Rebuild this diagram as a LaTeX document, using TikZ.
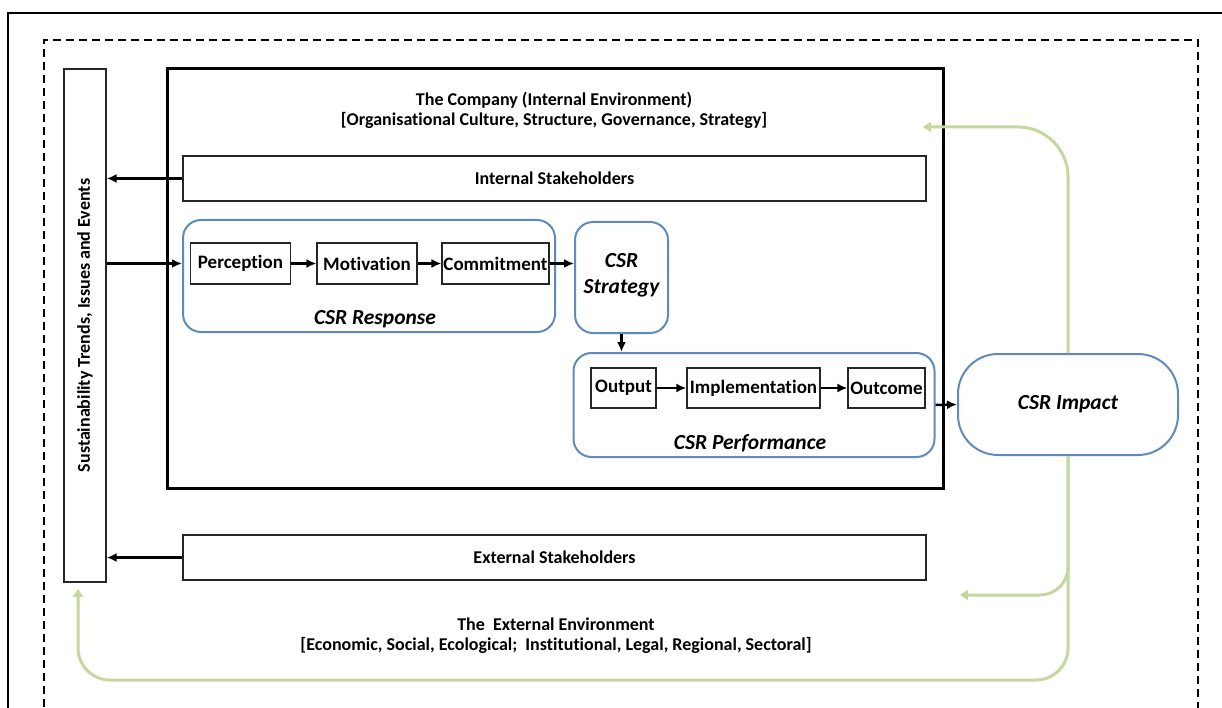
\documentclass[tikz,border=0pt]{standalone}
\usepackage{fontspec}
\setmainfont{Carlito}[Ligatures=NoCommon]
\usetikzlibrary{arrows.meta,calc}
\definecolor{cblue}{RGB}{96,138,190}
\definecolor{cgreen}{RGB}{196,215,158}
\begin{document}
\begin{tikzpicture}[x=1pt,y=-1pt,
  txt/.style={font=\fontsize{18}{21}\selectfont\bfseries},
  btxt/.style={font=\fontsize{19}{22}\selectfont\bfseries},
  plainbox/.style={draw=black!85, line width=1.2pt, inner sep=0pt, btxt},
  roundbox/.style={draw=cblue, line width=2pt, rounded corners=18pt, inner sep=0pt},
  lbl/.style={font=\fontsize{21.5}{25}\selectfont\bfseries\itshape, inner sep=0pt},
  blk/.style={-{Latex[length=10pt,width=9pt]}, line width=2.5pt},
  grn/.style={draw=cgreen, line width=3pt},
  grnarrow/.style={-{Triangle[length=8pt,width=10pt]}, grn}
]
\useasboundingbox (0,0) rectangle (1222,708);
\begin{scope}
\clip (0,0) rectangle (1222,708);
% outer frame
\draw[line width=1.5pt] (8,720) -- (8,13) -- (1240,13);
% dashed frame
\draw[line width=2pt, dash pattern=on 8pt off 5pt] (44,720) -- (44,40) -- (1198,40) -- (1198,720);
\end{scope}

% left bar
\node[plainbox, minimum width=42pt, minimum height=513pt] (bar) at (85,325.5) {};
\node[txt, rotate=90, inner sep=0pt] (bartext) at (bar.center) {Sustainability Trends, Issues and Events};

% company box
\node[draw=black, line width=3pt, minimum width=776pt, minimum height=419pt, inner sep=0pt] (company) at (555,278.5) {};
\node[txt, align=center, inner sep=0pt] (ctitle) at (554,110) {The Company (Internal Environment)\\[-1pt] [Organisational Culture, Structure, Governance, Strategy]};

% stakeholders
\node[plainbox, minimum width=743pt, minimum height=45pt, txt] (internal) at (554.5,178.5) {Internal Stakeholders};
\node[plainbox, minimum width=743pt, minimum height=45pt, txt] (external) at (554.5,557.5) {External Stakeholders};

% CSR response
\node[roundbox, minimum width=372pt, minimum height=112pt] (response) at (369,276) {};
\node[plainbox, minimum width=100pt, minimum height=41pt] (perception) at (240.5,263.5) {Perception};
\node[plainbox, minimum width=100pt, minimum height=41pt] (motivation) at (367,263.5) {Motivation};
\node[plainbox, minimum width=107pt, minimum height=41pt] (commitment) at (495.5,263.5) {Commitment};
\node[lbl] (resplbl) at (375,319) {CSR Response};

% CSR strategy
\node[roundbox, minimum width=93pt, minimum height=111pt] (strategy) at (621.5,277.5) {};
\node[lbl, align=center] (stratlbl) at (621.5,275) {CSR\\[1pt]Strategy};

% CSR performance
\node[roundbox, minimum width=361pt, minimum height=104pt] (performance) at (754,405) {};
\node[plainbox, minimum width=65pt, minimum height=40pt] (output) at (623.5,388) {Output};
\node[plainbox, minimum width=133pt, minimum height=40pt] (implementation) at (753.5,388) {Implementation};
\node[plainbox, minimum width=77pt, minimum height=40pt] (outcome) at (886.5,388) {Outcome};
\node[lbl] (perflbl) at (750,443) {CSR Performance};

% CSR impact
\node[draw=cblue, line width=2pt, rounded corners=40pt, minimum width=220pt, minimum height=101pt, inner sep=0pt] (impact) at (1068,404.5) {};
\node[lbl] (implbl) at (impact.center) {CSR Impact};

% external environment text
\node[txt, align=center, inner sep=0pt] (etitle) at (556,636) {The~ External Environment\\[-1pt] [Economic, Social, Ecological;~ Institutional, Legal, Regional, Sectoral]};

% black arrows
\draw[blk] (internal.west) -- (internal.west -| bar.east);
\draw[blk] (external.west) -- (external.west -| bar.east);
\draw[blk] (perception.west -| bar.east) -- (response.west |- perception.west);
\draw[blk] (perception) -- (motivation);
\draw[blk] (motivation) -- (commitment);
\draw[blk] (commitment.east) -- (strategy.west |- commitment.east);
\draw[blk] (strategy.south) -- (strategy.south |- performance.north);
\draw[blk] (output) -- (implementation);
\draw[blk] (implementation) -- (outcome);
\draw[blk] (performance.east) -- (impact.west);

% green feedback arrows
\coordinate (gtop) at (923,127);
\coordinate (gmid) at (960,595);
\coordinate (gleft) at (78,589);
\draw[grnarrow, rounded corners=50pt] (impact.north) |- (gtop);
\draw[grnarrow, rounded corners=28pt] (impact.south) |- (gmid);
\draw[grnarrow, rounded corners=32pt] (impact.south) |- (900,680) -| (gleft);
\end{tikzpicture}
\end{document}
